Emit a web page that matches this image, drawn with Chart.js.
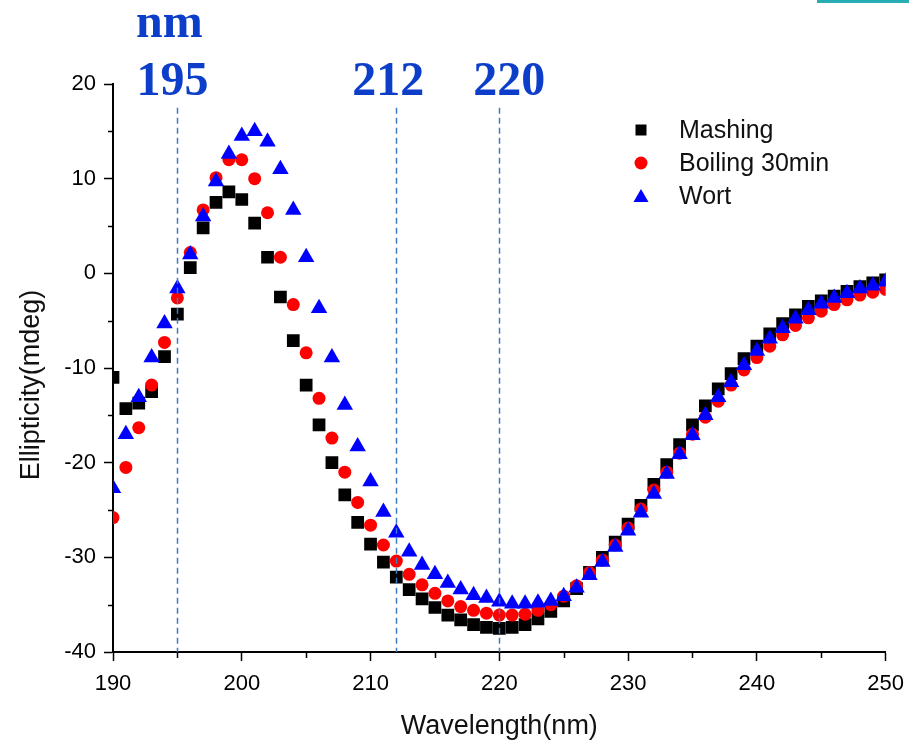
<!DOCTYPE html>
<html>
<head>
<meta charset="utf-8">
<title>Ellipticity</title>
<script src="https://cdn.jsdelivr.net/npm/chart.js@4.4.1/dist/chart.umd.min.js"></script>
<style>
  html, body { margin: 0; padding: 0; background: #fff; }
  #wrap { width: 914px; height: 744px; }
</style>
</head>
<body>
<div id="wrap"><canvas id="cd" width="914" height="744"></canvas></div>
<script>
/* Espectro de dicroísmo circular: três amostras, um ponto por nm. */

// --- Dados ------------------------------------------------------------------
var WAVELENGTHS = [190, 191, 192, 193, 194, 195, 196, 197, 198, 199,
                   200, 201, 202, 203, 204, 205, 206, 207, 208, 209,
                   210, 211, 212, 213, 214, 215, 216, 217, 218, 219,
                   220, 221, 222, 223, 224, 225, 226, 227, 228, 229,
                   230, 231, 232, 233, 234, 235, 236, 237, 238, 239,
                   240, 241, 242, 243, 244, 245, 246, 247, 248, 249, 250];

var MASHING = [-11.0, -14.3, -13.7, -12.5, -8.8, -4.3, 0.6, 4.8, 7.5, 8.6,
               7.8, 5.3, 1.7, -2.5, -7.1, -11.8, -16.0, -20.0, -23.4, -26.3,
               -28.6, -30.5, -32.1, -33.4, -34.4, -35.3, -36.1, -36.6, -37.1, -37.4,
               -37.5, -37.4, -37.1, -36.5, -35.7, -34.6, -33.3, -31.6, -30.0, -28.4,
               -26.5, -24.5, -22.3, -20.2, -18.1, -16.0, -14.0, -12.2, -10.6, -9.0,
               -7.7, -6.4, -5.3, -4.4, -3.5, -2.9, -2.4, -1.9, -1.4, -1.0, -0.7];

var BOILING = [-25.8, -20.5, -16.3, -11.8, -7.3, -2.6, 2.2, 6.7, 10.1, 12.0,
               12.0, 10.0, 6.4, 1.7, -3.3, -8.4, -13.2, -17.4, -21.0, -24.2,
               -26.6, -28.7, -30.4, -31.8, -32.9, -33.8, -34.6, -35.2, -35.6, -35.9,
               -36.1, -36.1, -36.0, -35.6, -35.0, -34.1, -33.0, -31.6, -30.3, -28.7,
               -26.9, -24.9, -22.9, -21.0, -19.0, -17.0, -15.2, -13.5, -11.8, -10.2,
               -8.9, -7.7, -6.5, -5.5, -4.7, -4.0, -3.3, -2.8, -2.3, -2.0, -1.7];

var WORT = [-22.7, -17.0, -13.1, -8.9, -5.3, -1.6, 2.0, 6.0, 9.7, 12.6,
            14.5, 15.0, 13.9, 11.0, 6.7, 1.7, -3.7, -8.9, -13.9, -18.3,
            -22.0, -25.2, -27.4, -29.4, -30.8, -31.8, -32.7, -33.4, -34.0, -34.3,
            -34.7, -34.9, -34.9, -34.8, -34.6, -34.1, -33.2, -31.9, -30.5, -28.9,
            -27.2, -25.3, -23.3, -21.2, -19.1, -17.1, -15.0, -13.1, -11.5, -9.7,
            -8.2, -6.9, -5.8, -4.8, -3.9, -3.2, -2.6, -2.1, -1.6, -1.3, -0.9];

var SERIES_NAMES = ["Mashing", "Boiling 30min", "Wort"];
var MARKED_NM = [195, 212, 220];
var MARKED_LABELS = ["195", "212", "220"];
var UNIT_LABEL = "nm";
var X_TITLE = "Wavelength(nm)";
var Y_TITLE = "Ellipticity(mdeg)";

// --- Estilo -----------------------------------------------------------------
var SANS = "'Liberation Sans', Arial, sans-serif";
var SERIF = "'Liberation Serif', 'Times New Roman', serif";
var MARK_BLUE = "#0c3ec9";
var DASH_BLUE = "#3d7cc4";

function points(values) {
  return WAVELENGTHS.map(function (w, i) { return { x: w, y: values[i] }; });
}

function drawMarker(ctx, style, cx, cy, color) {
  ctx.fillStyle = color;
  ctx.beginPath();
  if (style === "rect") ctx.rect(cx - 5.5, cy - 5.5, 11, 11);
  else if (style === "circle") ctx.arc(cx, cy, 6.5, 0, Math.PI * 2);
  else { ctx.moveTo(cx, cy - 7); ctx.lineTo(cx + 7.5, cy + 6); ctx.lineTo(cx - 7.5, cy + 6); ctx.closePath(); }
  ctx.fill();
}

// overlay: ticks menores, linhas tracejadas, rótulos azuis, legenda e títulos.
var overlay = {
  id: "overlay",
  afterDatasetsDraw: function (chart) {
    var ctx = chart.ctx, xs = chart.scales.x, ys = chart.scales.y, a = chart.chartArea;
    ctx.save();

    ctx.strokeStyle = "#000";
    ctx.lineWidth = 1.5;
    xs.ticks.forEach(function (t) {
      if (t.value % 10 === 0) return;
      var px = Math.round(xs.getPixelForValue(t.value)) + 0.5;
      ctx.beginPath(); ctx.moveTo(px, a.bottom); ctx.lineTo(px, a.bottom + 6); ctx.stroke();
    });
    ys.ticks.forEach(function (t) {
      if (t.value % 10 === 0) return;
      var py = Math.round(ys.getPixelForValue(t.value)) + 0.5;
      ctx.beginPath(); ctx.moveTo(a.left - 5, py); ctx.lineTo(a.left, py); ctx.stroke();
    });

    ctx.setLineDash([6, 4]);
    ctx.strokeStyle = DASH_BLUE;
    ctx.lineWidth = 1.5;
    MARKED_NM.forEach(function (nm) {
      var px = Math.round(xs.getPixelForValue(nm)) + 0.5;
      ctx.beginPath(); ctx.moveTo(px, ys.getPixelForValue(17.5)); ctx.lineTo(px, a.bottom); ctx.stroke();
    });
    ctx.setLineDash([]);

    ctx.fillStyle = MARK_BLUE;
    ctx.font = "bold 48px " + SERIF;
    ctx.textAlign = "center";
    ctx.textBaseline = "alphabetic";
    var shift = [-5, -8, 10];
    MARKED_NM.forEach(function (nm, i) {
      ctx.fillText(MARKED_LABELS[i], xs.getPixelForValue(nm) + shift[i], 95);
    });
    ctx.fillText(UNIT_LABEL, xs.getPixelForValue(MARKED_NM[0]) - 8, 37);

    ctx.fillStyle = "#27aeb5";
    ctx.fillRect(817, 0, 92, 3);

    // legenda
    var styles = ["rect", "circle", "triangle"];
    var colors = ["#000000", "#ff0000", "#0000ff"];
    ctx.font = "25px " + SANS;
    ctx.textAlign = "left";
    ctx.textBaseline = "middle";
    SERIES_NAMES.forEach(function (name, i) {
      var ly = 130 + i * 33;
      drawMarker(ctx, styles[i], 641, ly, colors[i]);
      ctx.fillStyle = "#111";
      ctx.fillText(name, 679, ly + 1);
    });

    // títulos dos eixos
    ctx.fillStyle = "#111";
    ctx.font = "27px " + SANS;
    ctx.textAlign = "center";
    ctx.textBaseline = "alphabetic";
    ctx.fillText(X_TITLE, (a.left + a.right) / 2, 734);
    ctx.translate(39, 385);
    ctx.rotate(-Math.PI / 2);
    ctx.fillText(Y_TITLE, 0, 0);

    ctx.restore();
  }
};

function majorTickColor(c) {
  return c.tick && c.tick.value % 10 === 0 ? "#000" : "rgba(0,0,0,0)";
}

Chart.defaults.font.family = SANS;
Chart.defaults.color = "#111";

new Chart(document.getElementById("cd"), {
  type: "scatter",
  data: {
    datasets: [
      { label: SERIES_NAMES[0], data: points(MASHING), order: 2,
        pointStyle: "rect", pointRadius: 9, backgroundColor: "#000000", borderWidth: 0 },
      { label: SERIES_NAMES[1], data: points(BOILING), order: 1,
        pointStyle: "circle", pointRadius: 6.5, backgroundColor: "#ff0000", borderWidth: 0 },
      { label: SERIES_NAMES[2], data: points(WORT), order: 0,
        pointStyle: "triangle", pointRadius: 9.5, backgroundColor: "#0000ff", borderWidth: 0 },
    ],
  },
  options: {
    responsive: false,
    animation: false,
    events: [],
    layout: { padding: { left: 0, top: 84, right: 21, bottom: 0 } },
    plugins: { legend: { display: false }, tooltip: { enabled: false } },
    scales: {
      x: {
        type: "linear", min: 190, max: 250,
        ticks: { stepSize: 5, autoSkip: false, maxRotation: 0, padding: 10, color: "#000", font: { size: 22 },
                 callback: function (v) { return v % 10 === 0 ? String(v) : ""; } },
        grid: { drawOnChartArea: false, drawTicks: true, tickLength: 9, tickWidth: 1.5, tickColor: majorTickColor },
        border: { display: true, color: "#000", width: 2 },
        afterFit: function (s) { s.height = 92; },
      },
      y: {
        type: "linear", min: -40, max: 20,
        ticks: { stepSize: 5, autoSkip: false, padding: 8, color: "#000", font: { size: 22 },
                 callback: function (v) { return v % 10 === 0 ? String(v) : ""; } },
        grid: { drawOnChartArea: false, drawTicks: true, tickLength: 9, tickWidth: 1.5, tickColor: majorTickColor },
        border: { display: true, color: "#000", width: 2 },
        afterFit: function (s) { s.width = 113; },
      },
    },
  },
  plugins: [overlay],
});
</script>
</body>
</html>
